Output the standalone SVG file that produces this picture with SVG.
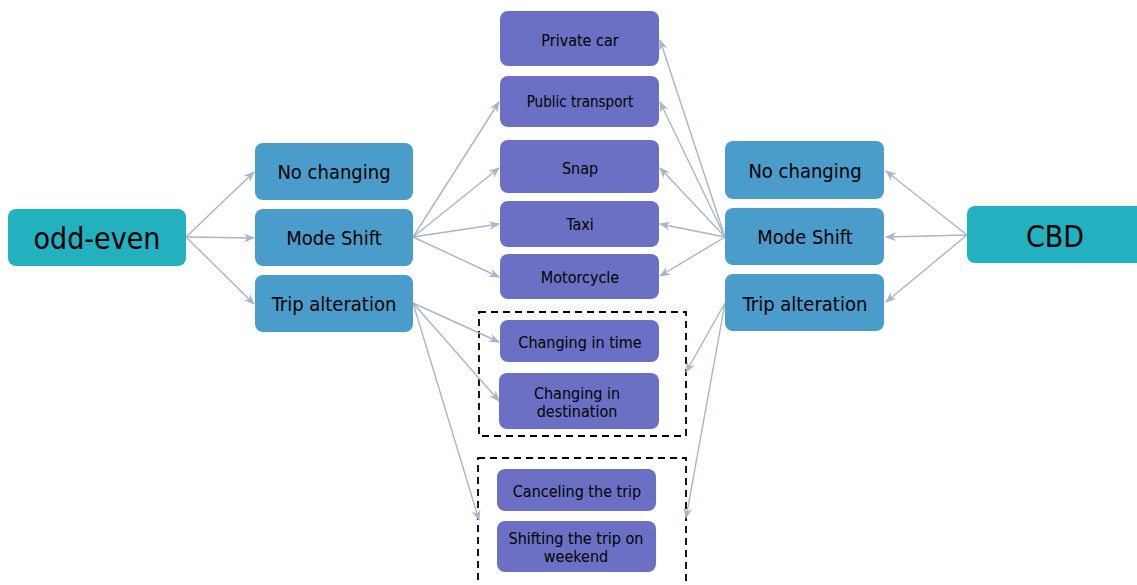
<svg xmlns="http://www.w3.org/2000/svg" width="1137" height="585" viewBox="0 0 1137 585">
<style>
text{font-family:"DejaVu Sans Condensed","DejaVu Sans",sans-serif;fill:#000;text-anchor:middle;dominant-baseline:central}
.root rect{fill:#23b1c0}
.lvl rect{fill:#4a9ccb}
.sub rect{fill:#6b70c4}
.root text{font-size:30px}
.lvl text{font-size:20px}
.sub text{font-size:16px}
.c line{stroke:#a9b5c8;stroke-width:1.4;fill:none}
.box{fill:none;stroke:#000;stroke-width:1.8;stroke-dasharray:7,5}
</style>
<defs>
<marker id="ah" viewBox="0 0 10 10" refX="9" refY="5" markerWidth="11" markerHeight="11" markerUnits="userSpaceOnUse" orient="auto">
<path d="M0,1 L10,5 L0,9 L3,5 z" fill="#a9b5c8"/>
</marker>
</defs>
<rect class="box" x="479" y="312" width="207" height="124"/>
<rect class="box" x="478" y="458" width="208" height="135"/>
<g class="c">
<line x1="186" y1="237" x2="254" y2="172" marker-end="url(#ah)"/>
<line x1="186" y1="237" x2="254" y2="238" marker-end="url(#ah)"/>
<line x1="186" y1="237" x2="254" y2="304" marker-end="url(#ah)"/>
<line x1="413" y1="237" x2="499" y2="102" marker-end="url(#ah)"/>
<line x1="413" y1="237" x2="499" y2="168" marker-end="url(#ah)"/>
<line x1="413" y1="237" x2="499" y2="224" marker-end="url(#ah)"/>
<line x1="413" y1="237" x2="499" y2="277" marker-end="url(#ah)"/>
<line x1="413" y1="303" x2="499" y2="342" marker-end="url(#ah)"/>
<line x1="413" y1="303" x2="499" y2="401" marker-end="url(#ah)"/>
<line x1="413" y1="303" x2="479" y2="520" marker-end="url(#ah)"/>
<line x1="725" y1="237" x2="660" y2="40" marker-end="url(#ah)"/>
<line x1="725" y1="237" x2="660" y2="102" marker-end="url(#ah)"/>
<line x1="725" y1="237" x2="660" y2="168" marker-end="url(#ah)"/>
<line x1="725" y1="237" x2="660" y2="224" marker-end="url(#ah)"/>
<line x1="725" y1="237" x2="660" y2="276" marker-end="url(#ah)"/>
<line x1="725" y1="303" x2="686" y2="372" marker-end="url(#ah)"/>
<line x1="725" y1="303" x2="686" y2="518" marker-end="url(#ah)"/>
<line x1="967" y1="235" x2="886" y2="171" marker-end="url(#ah)"/>
<line x1="967" y1="235" x2="886" y2="237" marker-end="url(#ah)"/>
<line x1="967" y1="235" x2="886" y2="302" marker-end="url(#ah)"/>
</g>
<g id="odd-even" class="root"><rect x="8" y="209" width="178" height="57" rx="8"/><text x="97" y="238">odd-even</text></g>
<g id="cbd" class="root"><rect x="967" y="206" width="178" height="57" rx="8"/><text x="1055" y="236">CBD</text></g>
<g id="l-nochange" class="lvl"><rect x="255" y="143" width="158" height="57" rx="8"/><text x="334" y="172">No changing</text></g>
<g id="l-mode" class="lvl"><rect x="255" y="209" width="158" height="57" rx="8"/><text x="334" y="238">Mode Shift</text></g>
<g id="l-trip" class="lvl"><rect x="255" y="275" width="158" height="57" rx="8"/><text x="334" y="304">Trip alteration</text></g>
<g id="r-nochange" class="lvl"><rect x="725" y="141" width="159" height="58" rx="8"/><text x="805" y="171">No changing</text></g>
<g id="r-mode" class="lvl"><rect x="725" y="208" width="159" height="57" rx="8"/><text x="805" y="237">Mode Shift</text></g>
<g id="r-trip" class="lvl"><rect x="725" y="274" width="159" height="57" rx="8"/><text x="805" y="304">Trip alteration</text></g>
<g id="private" class="sub"><rect x="500" y="11" width="159" height="55" rx="8"/><text x="580" y="40">Private car</text></g>
<g id="public" class="sub"><rect x="500" y="76" width="159" height="51" rx="8"/><text x="580" y="102" style="font-size:15px">Public transport</text></g>
<g id="snap" class="sub"><rect x="500" y="140" width="159" height="53" rx="8"/><text x="580" y="168">Snap</text></g>
<g id="taxi" class="sub"><rect x="500" y="201" width="159" height="46" rx="8"/><text x="580" y="224">Taxi</text></g>
<g id="moto" class="sub"><rect x="500" y="254" width="159" height="45" rx="8"/><text x="580" y="277">Motorcycle</text></g>
<g id="time" class="sub"><rect x="500" y="320" width="159" height="42" rx="8"/><text x="580" y="342">Changing in time</text></g>
<g id="dest" class="sub"><rect x="499" y="373" width="160" height="56" rx="8"/><text x="577" y="393">Changing in</text><text x="577" y="411">destination</text></g>
<g id="cancel" class="sub"><rect x="497" y="469" width="159" height="42" rx="8"/><text x="577" y="491">Canceling the trip</text></g>
<g id="weekend" class="sub"><rect x="497" y="521" width="159" height="51" rx="8"/><text x="576" y="538">Shifting the trip on</text><text x="576" y="556">weekend</text></g>
</svg>
